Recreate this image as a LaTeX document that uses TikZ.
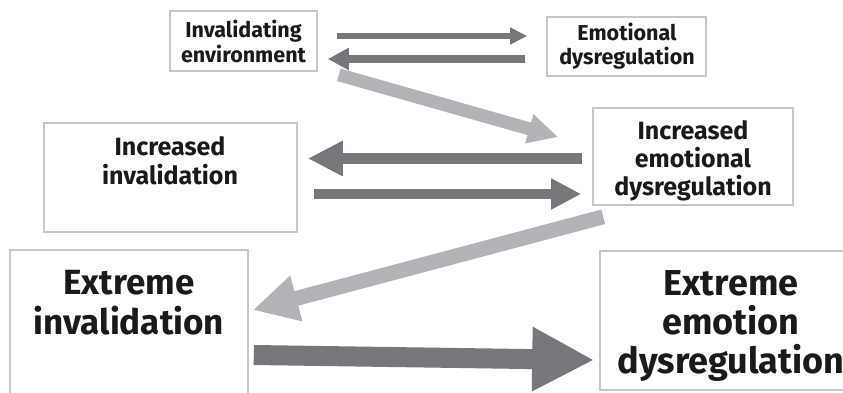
\documentclass[tikz,border=0pt]{standalone}
\usepackage{fontspec}
\setmainfont{Fira Sans}
\usetikzlibrary{arrows.meta}
\definecolor{darkarr}{HTML}{76777B}
\definecolor{lightarr}{HTML}{B2B3B6}
\definecolor{boxline}{HTML}{C6C7C9}
\definecolor{txtcol}{HTML}{1A1A1A}
\tikzset{
  box/.style={draw=boxline, line width=1.6pt, fill=white, rectangle, inner sep=0pt},
  txt/.style={align=center, text=txtcol, inner sep=0pt},
  darr/.style={draw=darkarr, fill=darkarr},
  larr/.style={draw=lightarr, fill=lightarr},
}
\begin{document}
\begin{tikzpicture}[x=1pt,y=-1pt]
\clip (0,0) rectangle (843,393);
\fill[white] (0,0) rectangle (843,393);
% boxes
\node[box, minimum width=147pt, minimum height=60pt] (b1) at (243.5,41) {};
\node[box, minimum width=159pt, minimum height=59pt] (b2) at (626.5,46.5) {};
\node[box, minimum width=253pt, minimum height=109pt] (b3) at (170.5,177.5) {};
\node[box, minimum width=200pt, minimum height=97pt] (b4) at (693,156.5) {};
\node[box, minimum width=238pt, minimum height=180pt] (b5) at (129,340) {};
\node[box, minimum width=270pt, minimum height=139pt] (b6) at (735,320.5) {};
% texts
\node[txt, font=\fontsize{21.5}{25}\selectfont\bfseries] (t1) at (243.5,41) {Invalidating\\environment};
\node[txt, font=\fontsize{21.5}{24}\selectfont\bfseries] (t2) at (627,46.5) {Emotional\\dysregulation};
\node[txt, font=\fontsize{25}{29}\selectfont\bfseries] (t3) at (170,160.5) {Increased\\invalidation};
\node[txt, font=\fontsize{25}{28}\selectfont\bfseries] (t4) at (693,161) {Increased\\emotional\\dysregulation};
\node[txt, font=\fontsize{35}{40}\selectfont\bfseries] (t5) at (129,302.5) {Extreme\\invalidation};
\node[txt, font=\fontsize{36}{39}\selectfont\bfseries] (t6) at (731,326) {Extreme\\emotion\\dysregulation};
% arrows
\draw[darr, line width=6pt, -{Triangle[length=17pt,width=16pt]}]
  ([shift={(19,-5)}]b1.east) -- ([shift={(-19,-10.5)}]b2.west);
\draw[darr, line width=8pt, -{Triangle[length=21pt,width=21pt]}]
  ([shift={(-21,12.5)}]b2.west) -- ([shift={(10,18)}]b1.east);
\draw[larr, line width=13pt, -{Triangle[length=30pt,width=28pt]}]
  ([shift={(21,3)}]b1.south east) -- ([shift={(-34,-19.5)}]b4.west);
\draw[darr, line width=11pt, -{Triangle[length=35pt,width=33pt]}]
  ([shift={(-10,2)}]b4.west) -- ([shift={(10,-19)}]b3.east);
\draw[darr, line width=10pt, -{Triangle[length=30pt,width=29pt]}]
  ([shift={(16,16.5)}]b3.east) -- ([shift={(-11,37.5)}]b4.west);
\draw[larr, line width=15pt, -{Triangle[length=45pt,width=44pt]}]
  ([shift={(11,11)}]b4.south west) -- ([shift={(4,-30)}]b5.east);
\draw[darr, line width=20pt, -{Triangle[length=62pt,width=60pt]}]
  ([shift={(5,15)}]b5.east) -- ([shift={(-5,39.5)}]b6.west);
\end{tikzpicture}
\end{document}
